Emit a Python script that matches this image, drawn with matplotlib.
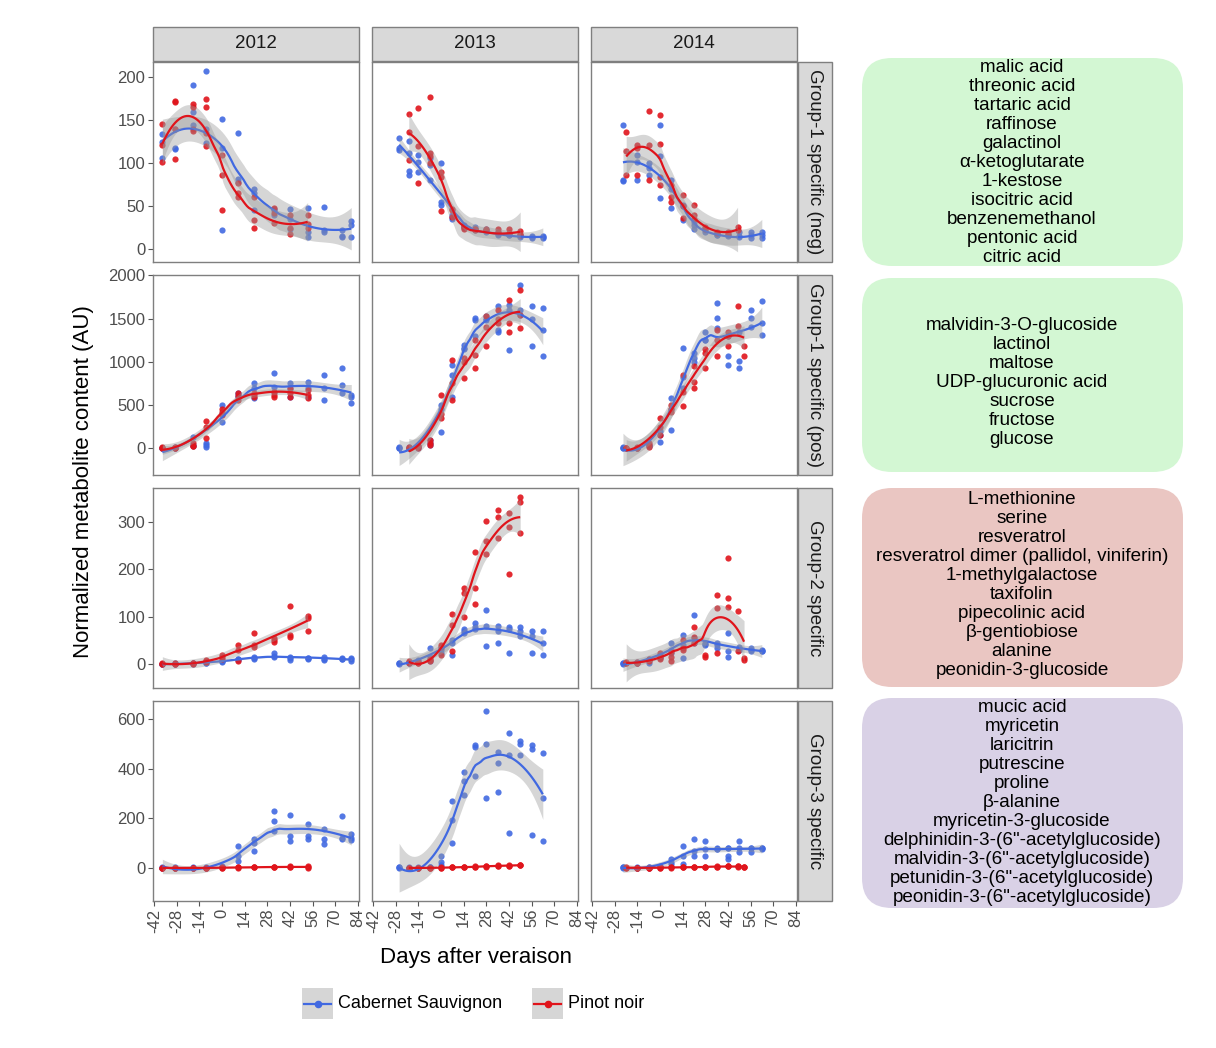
import numpy as np
import matplotlib
matplotlib.use("Agg")
import matplotlib.pyplot as plt
from matplotlib.patches import FancyBboxPatch, Rectangle

plt.rcParams['font.family'] = ['Liberation Sans', 'DejaVu Sans']

# ---------------- data ----------------
years = ['2012', '2013', '2014']
groups = ['Group-1 specific (neg)', 'Group-1 specific (pos)', 'Group-2 specific', 'Group-3 specific']
series_names = ['Cabernet Sauvignon', 'Pinot noir']
x_ticks = [-42, -28, -14, 0, 14, 28, 42, 56, 70, 84]
y_ticks_neg = [0, 50, 100, 150, 200]
y_ticks_pos = [0, 500, 1000, 1500, 2000]
y_ticks_g2 = [0, 100, 200, 300]
y_ticks_g3 = [0, 200, 400, 600]

days_2012_cs = [-37, -29, -18, -10, 0, 10, 20, 32, 42, 53, 63, 74, 80]
days_2012_pn = [-37, -29, -18, -10, 0, 10, 20, 32, 42, 53]
days_2013_cs = [-26, -20, -14, -7, 0, 7, 14, 21, 28, 35, 42, 49, 56, 63]
days_2013_pn = [-20, -14, -7, 0, 7, 14, 21, 28, 35, 42, 49]
days_2014_cs = [-23, -14, -7, 0, 7, 14, 21, 28, 35, 42, 49, 56, 63]
days_2014_pn = [-21, -14, -7, 0, 7, 14, 21, 28, 35, 42, 48, 52]

# Group-1 specific (neg)
cs_neg_2012 = [[134, 125, 106], [118, 117, 140], [191, 160, 145], [208, 124, 140], [152, 118, 22],
               [135, 82, 78], [70, 65, 45], [47, 45, 40], [47, 35, 24], [48, 20, 14], [49, 20, 22],
               [15, 14, 22], [33, 28, 14]]
pn_neg_2012 = [[146, 121, 101], [173, 171, 105, 140], [169, 166, 138, 140], [175, 166, 120, 135],
               [110, 86, 45], [77, 61, 65], [61, 34, 25], [48, 42, 30], [40, 25, 18], [40, 29, 25]]
cs_neg_2013 = [[130, 118, 116], [126, 91, 86, 112], [110, 101, 90], [106, 98, 80], [100, 51, 55],
               [40, 35, 38], [28, 25, 26], [26, 22, 24], [24, 22, 20], [18, 20, 17], [18, 16, 17],
               [16, 15, 14], [14, 15, 13], [14, 13, 15]]
pn_neg_2013 = [[158, 136, 104], [164, 120, 77], [177, 112, 109, 100], [84, 44, 90], [47, 38, 45],
               [26, 24, 27], [24, 23, 22], [24, 22], [24, 20], [23, 19], [21, 16, 18]]
cs_neg_2014 = [[145, 80, 79], [102, 80, 110], [86, 100, 95], [145, 108, 60], [80, 48, 70],
               [51, 34, 50], [28, 24, 32], [22, 25, 20], [16, 18, 17], [16, 15, 17], [20, 15, 14],
               [20, 13, 16], [20, 13, 17]]
pn_neg_2014 = [[136, 114, 86], [121, 86, 118], [161, 121, 80], [156, 123, 84, 75], [61, 55, 75],
               [63, 36, 50], [51, 40, 35], [24, 26], [20, 19], [18, 20], [26, 22], []]

# Group-1 specific (pos)
cs_pos_2012 = [[0, 5, 0], [0, 10, 5], [39, 20, 130], [58, 40, 19], [502, 400, 309], [637, 598, 620],
               [753, 700, 579], [876, 714, 650], [753, 680, 598], [772, 598, 700], [842, 560, 700],
               [927, 734, 640], [618, 598, 521]]
pn_pos_2012 = [[0, 10, 0], [0, 5, 10], [31, 20, 60], [317, 116, 250], [425, 386, 450],
               [637, 560, 600], [637, 598, 620], [656, 620, 598], [695, 598, 640], [676, 579, 620]]
cs_pos_2013 = [[12, 0, 5], [0, 10, 5], [0, 20, 10], [97, 60, 40], [193, 450, 500], [965, 598, 850],
               [1158, 1150, 1200], [1506, 1486, 1300], [1525, 1500, 1480], [1371, 1344, 1650],
               [1660, 1139, 1600], [1892, 1544, 1600], [1641, 1178, 1500], [1622, 1371, 1062]]
pn_pos_2013 = [[0, 5, 10], [0, 20, 30], [58, 39, 100], [618, 400, 350], [1023, 560, 750],
               [811, 1000, 1050], [1081, 927, 1250], [1525, 1178, 1400], [1602, 1500, 1450],
               [1718, 1448, 1351], [1834, 1544, 1390]]
cs_pos_2014 = [[12, 0, 5], [0, 5, 0], [20, 40, 30], [77, 200, 150], [579, 212, 450], [1158, 830, 700],
               [1042, 1100, 1000], [1351, 1255, 1250], [1680, 1506, 1390], [1062, 965, 1300],
               [1004, 927, 1350], [1602, 1506, 1400], [1707, 1448, 1313]]
pn_pos_2014 = [[0, 5, 0], [0, 10, 5], [19, 60, 40], [347, 154, 250], [425, 500, 450], [849, 483, 650],
               [772, 695, 950], [927, 1100, 1150], [1371, 1062, 1250], [1351, 1178, 1300],
               [1641, 1409], [1178, 1062]]

# Group-2 specific
cs_g2_2012 = [[0, 1, 0], [0, 1, 2], [2, 3, 1], [3, 4, 2], [6, 5, 7], [10, 12, 8], [16, 14, 12],
              [23, 16, 18], [16, 9, 14], [13, 11, 14], [16, 9, 12], [13, 11, 12], [13, 6, 10]]
pn_g2_2012 = [[2, 0, 1], [0, 2, 1], [2, 3, 1], [9, 6, 4], [20, 16, 12], [41, 6, 30], [65, 37, 40],
              [51, 46, 55], [123, 62, 58], [102, 97, 71]]
cs_g2_2013 = [[2, 1, 3], [3, 2, 4], [6, 5, 8], [34, 6, 15], [23, 30, 35], [44, 20, 50], [74, 65, 70],
              [86, 79, 75], [114, 39, 80], [69, 44, 80], [79, 23, 75], [79, 69, 60], [69, 23, 60],
              [69, 20, 45]]
pn_g2_2013 = [[6, 3, 4], [3, 5, 2], [6, 8, 10], [37, 20, 40], [106, 83, 27], [151, 100, 160],
              [237, 160, 127], [301, 232, 260], [325, 309, 265], [319, 289, 190], [353, 342, 277]]
cs_g2_2014 = [[2, 1, 3], [2, 3, 4], [3, 10, 8], [13, 20, 15], [44, 23, 30], [62, 13, 40],
              [104, 55, 45], [44, 40, 42], [44, 34, 40], [65, 27, 16], [37, 30, 35], [34, 30, 28],
              [30, 27, 28]]
pn_g2_2014 = [[3, 2, 4], [3, 5, 2], [6, 8, 10], [23, 16, 12], [16, 6, 25], [51, 34, 30], [79, 58, 45],
              [20, 16], [146, 118, 23], [224, 139, 121], [112, 27], [13, 9]]

# Group-3 specific
cs_g3_2012 = [[0, 2, 0], [0, 1, 2], [0, 2, 1], [0, 3, 1], [3, 5, 8], [89, 49, 29], [115, 69, 100],
              [228, 188, 149], [215, 129, 109], [175, 129, 115], [155, 115, 96], [208, 115, 120],
              [135, 113, 120]]
pn_g3_2012 = [[0, 1, 0], [0, 1, 0], [0, 1, 0], [0, 1, 0], [0, 2, 1], [3, 2, 1], [3, 2, 4], [3, 4, 2],
              [7, 5, 4], [7, 0, 4]]
cs_g3_2013 = [[3, 0, 2], [0, 1, 2], [0, 2, 1], [3, 5, 2], [49, 23, 10], [268, 195, 100],
              [388, 352, 295], [494, 487, 370], [630, 500, 281], [467, 423, 304], [543, 454, 139],
              [511, 500, 454], [494, 480, 131], [464, 281, 109]]
pn_g3_2013 = [[0, 1, 0], [0, 1, 0], [0, 1, 0], [0, 2, 1], [3, 2, 3], [3, 4, 2], [5, 4, 6], [7, 6, 5],
              [12, 9, 8], [9, 8, 10], [12, 10, 11]]
cs_g3_2014 = [[3, 0, 2], [0, 2, 1], [0, 3, 2], [3, 8, 5], [38, 16, 25], [89, 16, 50], [115, 49, 70],
              [109, 49, 75], [82, 78, 75], [82, 49, 36, 80], [109, 65, 80], [82, 65, 80], [82, 76, 80]]
pn_g3_2014 = [[3, 1, 0], [0, 1, 0], [0, 1, 0], [0, 1, 2], [3, 2, 1], [3, 2, 4], [3, 4, 2], [3, 4, 5],
              [5, 4, 6], [9, 7, 8], [7, 6, 5], [3, 4, 5]]

box_neg = ['malic acid', 'threonic acid', 'tartaric acid', 'raffinose', 'galactinol',
           'α-ketoglutarate', '1-kestose', 'isocitric acid', 'benzenemethanol', 'pentonic acid',
           'citric acid']
box_pos = ['malvidin-3-O-glucoside', 'lactinol', 'maltose', 'UDP-glucuronic acid', 'sucrose',
           'fructose', 'glucose']
box_g2 = ['L-methionine', 'serine', 'resveratrol', 'resveratrol dimer (pallidol, viniferin)',
          '1-methylgalactose', 'taxifolin', 'pipecolinic acid', 'β-gentiobiose', 'alanine',
          'peonidin-3-glucoside']
box_g3 = ['mucic acid', 'myricetin', 'laricitrin', 'putrescine', 'proline', 'β-alanine',
          'myricetin-3-glucoside', 'delphinidin-3-(6"-acetylglucoside)',
          'malvidin-3-(6"-acetylglucoside)', 'petunidin-3-(6"-acetylglucoside)',
          'peonidin-3-(6"-acetylglucoside)']

# ---------------- helpers ----------------
def flatten(days, nested):
    xs, ys = [], []
    for d, vals in zip(days, nested):
        for v in vals:
            xs.append(d)
            ys.append(v)
    return np.array(xs, float), np.array(ys, float)


def tquant(df):
    z = 1.959964
    return (z + (z**3 + z) / (4 * df) + (5 * z**5 + 16 * z**3 + 3 * z) / (96 * df**2)
            + (3 * z**7 + 19 * z**5 + 17 * z**3 - 15 * z) / (384 * df**3))


def loess(x, y, span=0.75, npts=80):
    n = len(x)
    q = int(np.floor(n * span))

    def lmat(points):
        M = np.zeros((len(points), n))
        for k, x0 in enumerate(points):
            d = np.abs(x - x0)
            h = max(np.sort(d)[q - 1], 1e-9)
            u = np.clip(d / h, 0, 1)
            w = (1 - u**3)**3
            X = np.column_stack([np.ones(n), x - x0, (x - x0)**2])
            XtW = X.T * w
            M[k] = (np.linalg.pinv(XtW @ X) @ XtW)[0]
        return M

    Lx = lmat(x)
    R = np.eye(n) - Lx
    RtR = R.T @ R
    d1 = np.trace(RtR)
    d2 = np.trace(RtR @ RtR)
    res = y - Lx @ y
    s = np.sqrt(np.sum(res**2) / d1)
    xs = np.linspace(x.min(), x.max(), npts)
    Ls = lmat(xs)
    fit = Ls @ y
    se = s * np.sqrt(np.sum(Ls**2, axis=1))
    t = tquant(d1**2 / d2)
    return xs, fit, fit - t * se, fit + t * se


# ---------------- layout ----------------
W, H = 1216, 1048
fig = plt.figure(figsize=(W / 100, H / 100), dpi=100)

BLUE = '#4169E1'
RED = '#E0141B'
BORDER = '#7f7f7f'
col_left = [153, 372, 591]
row_top = [62, 275, 488, 701]
PW, PH = 206, 200

panel_data = [
    [(days_2012_cs, cs_neg_2012, days_2012_pn, pn_neg_2012),
     (days_2013_cs, cs_neg_2013, days_2013_pn, pn_neg_2013),
     (days_2014_cs, cs_neg_2014, days_2014_pn, pn_neg_2014)],
    [(days_2012_cs, cs_pos_2012, days_2012_pn, pn_pos_2012),
     (days_2013_cs, cs_pos_2013, days_2013_pn, pn_pos_2013),
     (days_2014_cs, cs_pos_2014, days_2014_pn, pn_pos_2014)],
    [(days_2012_cs, cs_g2_2012, days_2012_pn, pn_g2_2012),
     (days_2013_cs, cs_g2_2013, days_2013_pn, pn_g2_2013),
     (days_2014_cs, cs_g2_2014, days_2014_pn, pn_g2_2014)],
    [(days_2012_cs, cs_g3_2012, days_2012_pn, pn_g3_2012),
     (days_2013_cs, cs_g3_2013, days_2013_pn, pn_g3_2013),
     (days_2014_cs, cs_g3_2014, days_2014_pn, pn_g3_2014)],
]
row_yticks = [y_ticks_neg, y_ticks_pos, y_ticks_g2, y_ticks_g3]
row_ylim = [(-15, 218), (-310, 2005), (-50, 371), (-133, 672)]

for r in range(4):
    for c in range(3):
        ax = fig.add_axes([col_left[c] / W, 1 - (row_top[r] + PH) / H, PW / W, PH / H])
        dcs, vcs, dpn, vpn = panel_data[r][c]
        xc, yc = flatten(dcs, vcs)
        xp, yp = flatten(dpn, vpn)
        ax.scatter(xc, yc, s=20, color=BLUE, alpha=0.9, linewidths=0, zorder=2)
        ax.scatter(xp, yp, s=20, color=RED, alpha=0.9, linewidths=0, zorder=2)
        z = 3
        for (xx, yy, col) in [(xc, yc, BLUE), (xp, yp, RED)]:
            xs, fit, lo, hi = loess(xx, yy)
            ax.fill_between(xs, lo, hi, color='#999999', alpha=0.4, linewidth=0, zorder=z)
            ax.plot(xs, fit, color=col, lw=1.6, zorder=z + 1, solid_capstyle='butt')
            z += 2
        ax.set_xlim(-42.8, 84.8)
        ax.set_ylim(*row_ylim[r])
        for sp in ax.spines.values():
            sp.set_color(BORDER)
            sp.set_linewidth(1.0)
        ax.tick_params(axis='both', direction='out', length=3.5, width=0.8, color='#555555',
                       labelcolor='#4d4d4d', labelsize=12, pad=2)
        ax.set_xticks(x_ticks)
        ax.set_yticks(row_yticks[r])
        if c == 0:
            ax.set_yticklabels([str(v) for v in row_yticks[r]])
        else:
            ax.tick_params(axis='y', left=False, labelleft=False)
        if r == 3:
            ax.set_xticklabels([str(v) for v in x_ticks], rotation=90, va='top', ha='center')
        else:
            ax.tick_params(axis='x', bottom=False, labelbottom=False)

# overlay for annotations in pixel coords
ov = fig.add_axes([0, 0, 1, 1], zorder=-5)
ov.set_xlim(0, W)
ov.set_ylim(H, 0)
ov.axis('off')

# top strips
for c in range(3):
    ov.add_patch(Rectangle((col_left[c], 27), PW, 34, facecolor='#d9d9d9', edgecolor=BORDER, lw=1.0))
    ov.text(col_left[c] + PW / 2, 44, years[c], ha='center', va='center', fontsize=13.5, color='#1a1a1a')
# right strips
for r in range(4):
    ov.add_patch(Rectangle((798, row_top[r]), 34, PH, facecolor='#d9d9d9', edgecolor=BORDER, lw=1.0))
    ov.text(815, row_top[r] + PH / 2, groups[r], ha='center', va='center', rotation=270,
            fontsize=13.5, color='#1a1a1a')

# axis titles
ov.text(84, 482, 'Normalized metabolite content (AU)', rotation=90, ha='center', va='center',
        fontsize=16, color='black')
ov.text(476, 958, 'Days after veraison', ha='center', va='center', fontsize=16, color='black')

# legend
for x0, col, name in [(302, BLUE, series_names[0]), (532, RED, series_names[1])]:
    ov.add_patch(Rectangle((x0, 988), 31, 31, facecolor='#d6d6d6', edgecolor='none'))
    ov.plot([x0 + 2, x0 + 29], [1003.5, 1003.5], color=col, lw=1.6)
    ov.scatter([x0 + 15.5], [1003.5], s=20, color=col, zorder=3)
    ov.text(x0 + 36, 1003.5, name, ha='left', va='center', fontsize=13, color='black')

# right side boxes
boxes = [
    (58, 266, '#d3f7d3', box_neg, 67),
    (278, 472, '#d3f7d3', box_pos, 325),
    (488, 687, '#eac6c2', box_g2, 499),
    (698, 908, '#d9d1e6', box_g3, 707),
]
for (y0, y1, fc, lines, first) in boxes:
    ov.add_patch(FancyBboxPatch((862, y0), 321, y1 - y0,
                                boxstyle='round,pad=0,rounding_size=30',
                                facecolor=fc, edgecolor='none'))
    for i, t in enumerate(lines):
        ov.text(1022, first + i * 19.05, t, ha='center', va='center', fontsize=13.6, color='black')

fig.savefig('out.png', dpi=100)
